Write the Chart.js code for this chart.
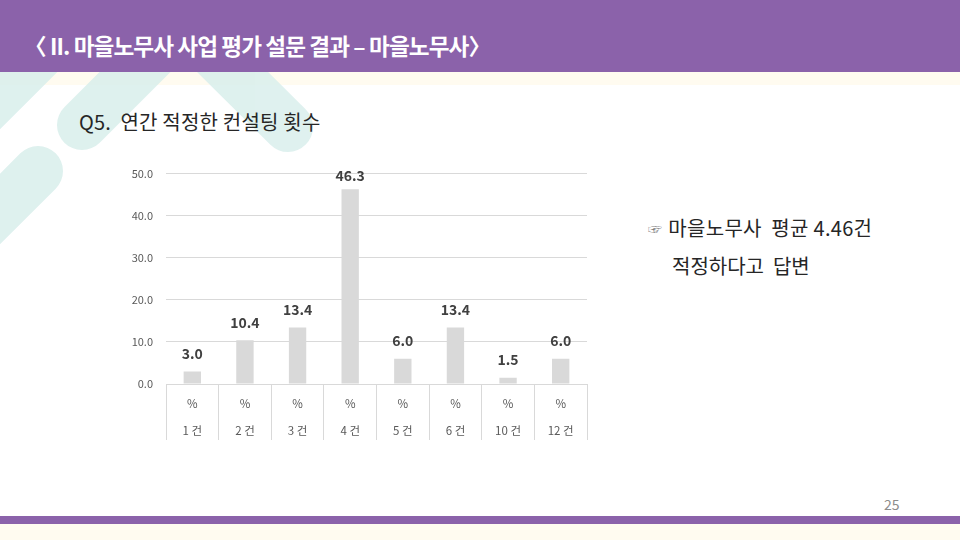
<!DOCTYPE html>
<html>
<head>
<meta charset="utf-8">
<script src="https://cdn.jsdelivr.net/npm/chart.js@4"></script>
<style>
  html, body { margin:0; padding:0; }
  body { width:960px; height:540px; position:relative; overflow:hidden; background:#ffffff;
         font-family:'Noto Sans CJK KR','Noto Sans',sans-serif; }
  .abs { position:absolute; }
  #hdr { left:0; top:0; width:960px; height:72px; background:#8B62AA; }
  #cream1 { left:0; top:72px; width:960px; height:13px; background:#FFFBF0; }
  #deco { left:0; top:0; }
  #title { left:24px; top:28px; color:#fff; font-weight:700; font-size:22.6px; letter-spacing:-0.9px; white-space:nowrap; line-height:36px; }
  #q { left:79px; top:107px; color:#262626; font-size:20px; line-height:30px; white-space:nowrap; letter-spacing:0.2px; }
  #note1 { left:648px; top:213px; color:#262626; font-size:20px; line-height:30px; white-space:nowrap; letter-spacing:0.3px; }
  #note1 .hand { color:#7f7f7f; font-size:14px; margin-right:6px; vertical-align:2px; }
  #note2 { left:672px; top:251px; color:#262626; font-size:20px; line-height:30px; white-space:nowrap; letter-spacing:0px; }
  #pg { left:884px; top:494px; color:#8c8c8c; font-size:14px; line-height:20px; }
  #botbar { left:0; top:516px; width:960px; height:8px; background:#8B62AA; }
  #cream2 { left:0; top:524px; width:960px; height:16px; background:#FFFBF0; }
  #wrap { left:100px; top:154px; width:500px; height:296px; }
</style>
</head>
<body>
<div id="cream1" class="abs"></div>
<svg id="deco" class="abs" width="960" height="540">
  <g stroke="#D9EFEC" stroke-width="50" stroke-linecap="round" fill="none" opacity="0.85">
    <line x1="70" y1="24" x2="-70" y2="164"/>
    <line x1="82" y1="125" x2="200" y2="7"/>
    <line x1="170" y1="10" x2="288" y2="127"/>
    <line x1="38" y1="171" x2="-110" y2="319"/>
  </g>
</svg>
<div id="hdr" class="abs"></div>
<div id="title" class="abs">〈 II. 마을노무사 사업 평가 설문 결과 – 마을노무사〉</div>
<div id="q" class="abs">Q5.&nbsp; 연간 적정한 컨설팅 횟수</div>
<div id="note1" class="abs"><span class="hand">☞</span>마을노무사&nbsp; 평균 4.46건</div>
<div id="note2" class="abs">적정하다고&nbsp; 답변</div>
<div id="pg" class="abs">25</div>
<div id="botbar" class="abs"></div>
<div id="cream2" class="abs"></div>
<div id="wrap" class="abs"><canvas id="c"></canvas></div>
<script>
const categories = ['1 건', '2 건', '3 건', '4 건', '5 건', '6 건', '10 건', '12 건'];
const unitRow = '%';
const values = [3.0, 10.4, 13.4, 46.3, 6.0, 13.4, 1.5, 6.0];
const yTicks = [0, 10, 20, 30, 40, 50];

const labelPlugin = {
  id: 'barLabels',
  afterDatasetsDraw(chart) {
    const ctx = chart.ctx;
    const meta = chart.getDatasetMeta(0);
    ctx.save();
    ctx.font = "bold 14px 'Noto Sans CJK KR','Noto Sans',sans-serif";
    ctx.fillStyle = '#404040';
    ctx.textAlign = 'center';
    ctx.textBaseline = 'middle';
    meta.data.forEach((bar, i) => {
      const y = Math.max(bar.y - 18, chart.chartArea.top + 2);
      ctx.fillText(values[i].toFixed(1), bar.x, y);
    });
    ctx.restore();
  }
};

new Chart(document.getElementById('c'), {
  type: 'bar',
  data: {
    labels: categories.map(c => [unitRow, c]),
    datasets: [{
      data: values,
      backgroundColor: '#D9D9D9',
      borderWidth: 0,
      barPercentage: 0.33,
      categoryPercentage: 1.0
    }]
  },
  options: {
    responsive: true,
    maintainAspectRatio: false,
    animation: false,
    layout: { padding: { top: 8, right: 13, bottom: 10, left: 0 } },
    plugins: { legend: { display: false }, tooltip: { enabled: false } },
    scales: {
      y: {
        min: 0, max: 50,
        afterBuildTicks: s => { s.ticks = yTicks.map(v => ({ value: v })); },
        afterFit: s => { s.width = 66; },
        border: { display: false },
        grid: { color: '#D9D9D9', drawTicks: false, lineWidth: 1 },
        ticks: {
          padding: 13,
          color: '#595959',
          font: { size: 11, family: "'Noto Sans CJK KR','Noto Sans',sans-serif" },
          callback: v => Number(v).toFixed(1)
        }
      },
      x: {
        afterFit: s => { s.height = 56; },
        border: { display: true, color: '#D9D9D9' },
        grid: { offset: true, drawOnChartArea: false, drawTicks: true, tickLength: 56, color: '#D9D9D9' },
        ticks: {
          padding: -50,
          color: '#595959',
          maxRotation: 0,
          autoSkip: false,
          font: { size: 11.5, lineHeight: 2.35, family: "'Noto Sans CJK KR','Noto Sans',sans-serif" }
        }
      }
    }
  },
  plugins: [labelPlugin]
});
</script>
</body>
</html>
